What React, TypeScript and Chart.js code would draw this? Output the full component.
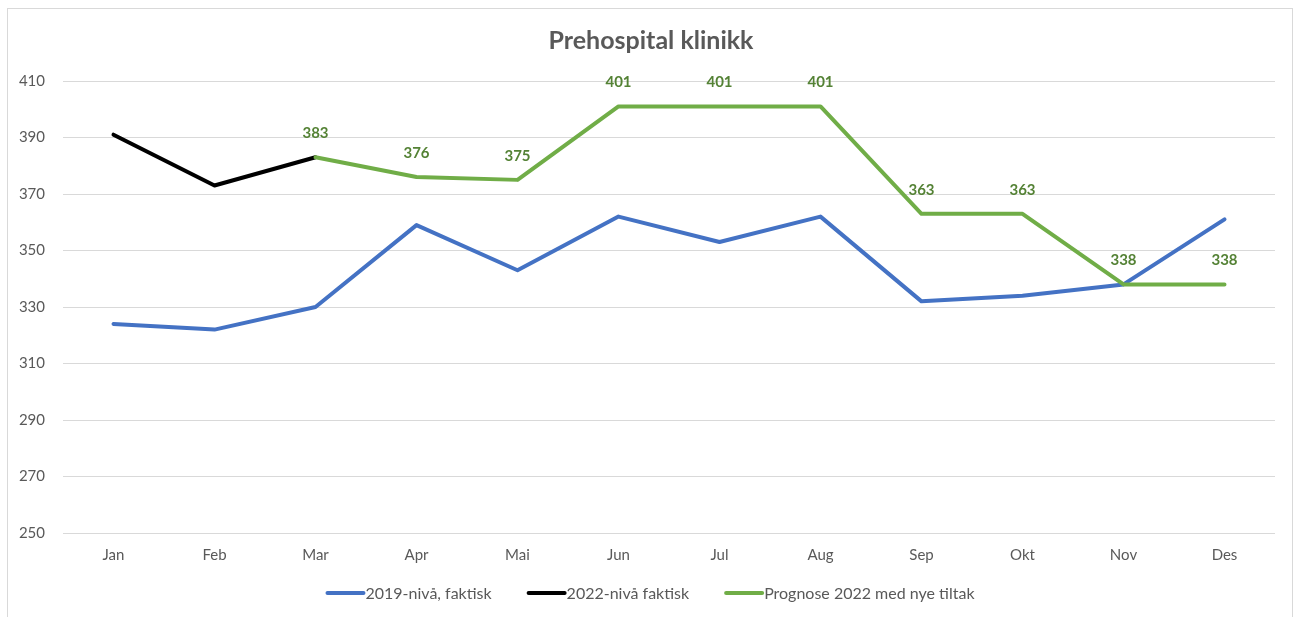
import React, { useEffect, useRef } from "react";
import { Chart, registerables } from "chart.js";

Chart.register(...registerables);

const months = ["Jan", "Feb", "Mar", "Apr", "Mai", "Jun", "Jul", "Aug", "Sep", "Okt", "Nov", "Des"];
const level2019 = [324, 322, 330, 359, 343, 362, 353, 362, 332, 334, 338, 361];
const actual2022 = [391, 373, 383, null, null, null, null, null, null, null, null, null];
const forecast2022 = [null, null, 383, 376, 375, 401, 401, 401, 363, 363, 338, 338];
const seriesNames = ["2019-nivå, faktisk", "2022-nivå faktisk", "Prognose 2022 med nye tiltak"];
const seriesColors = ["#4472C4", "#000000", "#70AD47"];
const chartTitle = "Prehospital klinikk";
const yMin = 250;
const yMax = 410;
const yStep = 20;

const FONT = "Lato, 'Open Sans', 'DejaVu Sans', sans-serif";
const TEXT = "#595959";

// Title centred on the whole canvas width
const centredTitle = {
  id: "centredTitle",
  afterDraw(chart: any) {
    const ctx = chart.ctx;
    ctx.save();
    ctx.font = `bold 25px ${FONT}`;
    ctx.fillStyle = TEXT;
    ctx.textAlign = "center";
    ctx.textBaseline = "middle";
    ctx.fillText(chartTitle, chart.width / 2 + 1, 32);
    ctx.restore();
  },
};

// Value labels above the forecast line
const valueLabels = {
  id: "valueLabels",
  afterDatasetsDraw(chart: any) {
    const idx = 2;
    const meta = chart.getDatasetMeta(idx);
    const data = chart.data.datasets[idx].data;
    const ctx = chart.ctx;
    ctx.save();
    ctx.font = `bold 15px ${FONT}`;
    ctx.fillStyle = "#548235";
    ctx.textAlign = "center";
    ctx.textBaseline = "middle";
    meta.data.forEach((pt: any, i: number) => {
      const v = data[i];
      if (v === null || v === undefined) return;
      ctx.fillText(String(v), pt.x, pt.y - 24);
    });
    ctx.restore();
  },
};

// Legend row beneath the axis: line sample followed directly by the label
const lineLegend = {
  id: "lineLegend",
  afterDraw(chart: any) {
    const ctx = chart.ctx;
    const sample = 40;
    const gap = 35;
    const y = 584;
    ctx.save();
    ctx.font = `16px ${FONT}`;
    ctx.textBaseline = "middle";
    ctx.textAlign = "left";
    const widths = chart.data.datasets.map((d: any) => sample + ctx.measureText(d.label).width);
    const total = widths.reduce((a: number, b: number) => a + b, 0) + gap * (widths.length - 1);
    let x = (chart.width - total) / 2;
    chart.data.datasets.forEach((d: any, i: number) => {
      ctx.strokeStyle = d.borderColor;
      ctx.lineWidth = 4;
      ctx.lineCap = "round";
      ctx.beginPath();
      ctx.moveTo(x + 2, y);
      ctx.lineTo(x + sample - 2, y);
      ctx.stroke();
      ctx.fillStyle = TEXT;
      ctx.fillText(d.label, x + sample, y + 1);
      x += widths[i] + gap;
    });
    ctx.restore();
  },
};

export default function App() {
  const canvasRef = useRef<HTMLCanvasElement | null>(null);

  useEffect(() => {
    if (!canvasRef.current) return;
    const lineStyle = {
      borderWidth: 4,
      pointRadius: 0,
      pointHoverRadius: 0,
      borderJoinStyle: "round" as const,
      borderCapStyle: "round" as const,
      tension: 0,
      spanGaps: false,
    };
    const chart = new Chart(canvasRef.current, {
      type: "line",
      data: {
        labels: months,
        datasets: [
          { label: seriesNames[0], data: level2019, borderColor: seriesColors[0], backgroundColor: seriesColors[0], order: 2, ...lineStyle },
          { label: seriesNames[1], data: actual2022, borderColor: seriesColors[1], backgroundColor: seriesColors[1], order: 1, ...lineStyle },
          { label: seriesNames[2], data: forecast2022, borderColor: seriesColors[2], backgroundColor: seriesColors[2], order: 0, ...lineStyle },
        ],
      },
      options: {
        animation: false,
        responsive: false,
        maintainAspectRatio: false,
        layout: { padding: { left: 0, right: 17, top: 72, bottom: 40 } },
        font: { family: FONT },
        plugins: {
          legend: { display: false },
          tooltip: { enabled: false },
          title: { display: false },
        },
        scales: {
          x: {
            offset: true,
            grid: { display: false, drawTicks: false },
            border: { display: false },
            ticks: { color: TEXT, font: { family: FONT, size: 15 }, padding: 13, maxRotation: 0 },
          },
          y: {
            min: yMin,
            max: yMax,
            grid: { color: "#d9d9d9", lineWidth: 1, drawTicks: false },
            border: { display: false },
            ticks: { stepSize: yStep, color: TEXT, font: { family: FONT, size: 15 }, padding: 18 },
            afterFit(scale: any) {
              scale.width = 55;
            },
          },
        },
      } as any,
      plugins: [valueLabels, lineLegend, centredTitle],
    });
    return () => chart.destroy();
  }, []);

  return (
    <div style={{ position: "fixed", inset: 0, overflow: "hidden", background: "#fff" }}>
      <div
        style={{
          position: "absolute",
          left: 7,
          top: 8,
          width: 1286,
          height: 640,
          border: "1px solid #d9d9d9",
          boxSizing: "border-box",
          background: "#fff",
        }}
      >
        <canvas ref={canvasRef} width={1284} height={608} style={{ display: "block", width: 1284, height: 608 }} />
      </div>
    </div>
  );
}
